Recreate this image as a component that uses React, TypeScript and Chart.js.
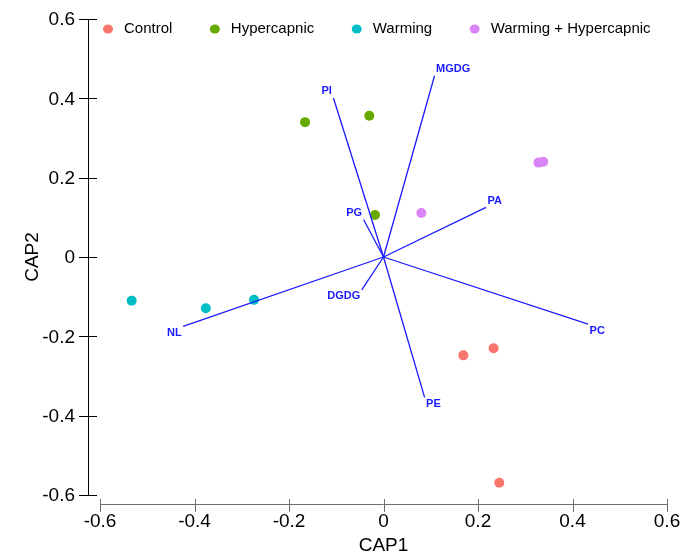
import { useEffect, useRef } from "react";
import { Chart, registerables } from "chart.js";

Chart.register(...registerables);

// Sample scores on the first two canonical axes, per treatment group
const groupNames = ["Control", "Hypercapnic", "Warming", "Warming + Hypercapnic"];
const groupColors = ["#F8766D", "#66AA00", "#00BFC4", "#DA85F5"];

const controlX = [0.169, 0.233, 0.245];
const controlY = [-0.248, -0.230, -0.569];
const hypercapnicX = [-0.166, -0.030, -0.018];
const hypercapnicY = [0.340, 0.356, 0.106];
const warmingX = [-0.533, -0.376, -0.274];
const warmingY = [-0.110, -0.129, -0.108];
const warmHyperX = [0.080, 0.328, 0.338];
const warmHyperY = [0.111, 0.238, 0.240];

// Lipid class vectors (biplot arrows from the origin)
const lipidNames = ["MGDG", "PI", "PG", "DGDG", "PA", "PC", "PE", "NL"];
const lipidX = [0.108, -0.106, -0.042, -0.046, 0.217, 0.433, 0.087, -0.424];
const lipidY = [0.457, 0.401, 0.094, -0.083, 0.125, -0.169, -0.354, -0.175];

// Axis ticks
const xTickValues = [-0.6, -0.4, -0.2, 0, 0.2, 0.4, 0.6];
const xTickLabels = ["-0.6", "-0.4", "-0.2", "0", "0.2", "0.4", "0.6"];
const yTickValues = [-0.6, -0.4, -0.2, 0, 0.2, 0.4, 0.6];
const yTickLabels = ["-0.6", "-0.4", "-0.2", "0", "0.2", "0.4", "0.6"];

const xTitle = "CAP1";
const yTitle = "CAP2";

const FONT = "'Liberation Sans', Arial, sans-serif";
const VECTOR_COLOR = "#1a1aff";

const groupXs = [controlX, hypercapnicX, warmingX, warmHyperX];
const groupYs = [controlY, hypercapnicY, warmingY, warmHyperY];

const zip = (xs: number[], ys: number[]) => xs.map((x, i) => ({ x, y: ys[i] }));

const axesPlugin = {
  id: "baseAxes",
  afterDatasetsDraw(chart: any) {
    const { ctx, scales } = chart;
    const xs = scales.x;
    const ys = scales.y;
    // labels at the tips of the lipid vectors
    ctx.save();
    ctx.font = `bold 11px ${FONT}`;
    ctx.fillStyle = VECTOR_COLOR;
    ctx.textBaseline = "middle";
    lipidNames.forEach((name, i) => {
      const px = xs.getPixelForValue(lipidX[i]);
      const py = ys.getPixelForValue(lipidY[i]);
      ctx.textAlign = lipidX[i] >= 0 ? "left" : "right";
      const dx = lipidX[i] >= 0 ? 1.5 : -1.5;
      const dy = lipidY[i] >= 0 ? -6.5 : 6.5;
      ctx.fillText(name, px + dx, py + dy);
    });
    ctx.restore();
  },
  afterDraw(chart: any) {
    const { ctx, scales, chartArea } = chart;
    const xs = scales.x;
    const ys = scales.y;
    ctx.save();

    // y axis
    const ax = chartArea.left - 12;
    const yTop = ys.getPixelForValue(yTickValues[yTickValues.length - 1]);
    const yBot = ys.getPixelForValue(yTickValues[0]);
    ctx.strokeStyle = "#000";
    ctx.lineWidth = 1;
    ctx.beginPath();
    ctx.moveTo(ax + 0.5, yTop);
    ctx.lineTo(ax + 0.5, yBot);
    yTickValues.forEach((v) => {
      const p = Math.round(ys.getPixelForValue(v)) + 0.5;
      ctx.moveTo(ax - 9, p);
      ctx.lineTo(ax + 9, p);
    });
    ctx.stroke();
    ctx.fillStyle = "#000";
    ctx.font = `19px ${FONT}`;
    ctx.textAlign = "right";
    ctx.textBaseline = "middle";
    yTickValues.forEach((v, i) => {
      ctx.fillText(yTickLabels[i], ax - 13, ys.getPixelForValue(v) + 1);
    });

    // x axis
    const ay = chartArea.bottom + 9;
    const xL = xs.getPixelForValue(xTickValues[0]);
    const xR = xs.getPixelForValue(xTickValues[xTickValues.length - 1]);
    ctx.strokeStyle = "#6e6e6e";
    ctx.beginPath();
    ctx.moveTo(xL, ay + 0.5);
    ctx.lineTo(xR, ay + 0.5);
    xTickValues.forEach((v) => {
      const p = Math.round(xs.getPixelForValue(v)) + 0.5;
      ctx.moveTo(p, ay - 5);
      ctx.lineTo(p, ay + 8);
    });
    ctx.stroke();
    ctx.fillStyle = "#000";
    ctx.textAlign = "center";
    xTickValues.forEach((v, i) => {
      ctx.fillText(xTickLabels[i], xs.getPixelForValue(v), ay + 18);
    });

    // axis titles
    ctx.font = `19px ${FONT}`;
    ctx.fillText(xTitle, (xL + xR) / 2, ay + 42);
    ctx.save();
    ctx.translate(33, (yTop + yBot) / 2);
    ctx.rotate(-Math.PI / 2);
    ctx.fillText(yTitle, 0, 0);
    ctx.restore();

    // legend
    ctx.font = `15px ${FONT}`;
    ctx.textAlign = "left";
    let lx = 108;
    const ly = 28.5;
    groupNames.forEach((name, i) => {
      ctx.fillStyle = groupColors[i];
      ctx.beginPath();
      ctx.ellipse(lx, ly + 0.5, 5, 4.5, 0, 0, Math.PI * 2);
      ctx.fill();
      ctx.fillStyle = "#000";
      const tx = lx + 16;
      ctx.fillText(name, tx, ly);
      lx = tx + ctx.measureText(name).width + 42.5;
    });

    ctx.restore();
  },
};

export default function App() {
  const canvasRef = useRef<HTMLCanvasElement | null>(null);

  useEffect(() => {
    document.body.style.margin = "0";
    const canvas = canvasRef.current;
    if (!canvas) return;

    const pointSets = groupNames.map((name, i) => ({
      type: "scatter" as const,
      label: name,
      data: zip(groupXs[i], groupYs[i]),
      backgroundColor: groupColors[i],
      borderWidth: 0,
      pointRadius: 5,
      pointHoverRadius: 5,
      order: 1,
    }));

    const vectorSets = lipidNames.map((name, i) => ({
      type: "line" as const,
      label: name,
      data: [
        { x: 0, y: 0 },
        { x: lipidX[i], y: lipidY[i] },
      ],
      borderColor: VECTOR_COLOR,
      borderWidth: 1.3,
      pointRadius: 0,
      fill: false,
      tension: 0,
      order: 0,
    }));

    const chart = new Chart(canvas, {
      type: "scatter",
      data: { datasets: [...pointSets, ...vectorSets] as any },
      options: {
        responsive: false,
        animation: false,
        layout: { padding: { left: 100, top: 19, right: 14, bottom: 61 } },
        scales: {
          x: { type: "linear", min: -0.6, max: 0.6, display: false },
          y: { type: "linear", min: -0.6, max: 0.6, display: false },
        },
        plugins: {
          legend: { display: false },
          tooltip: { enabled: false },
        },
      },
      plugins: [axesPlugin],
    });

    return () => chart.destroy();
  }, []);

  return (
    <div style={{ position: "fixed", left: 0, top: 0, width: 681, height: 556, background: "#fff" }}>
      <canvas ref={canvasRef} width={681} height={556} style={{ display: "block" }} />
    </div>
  );
}
